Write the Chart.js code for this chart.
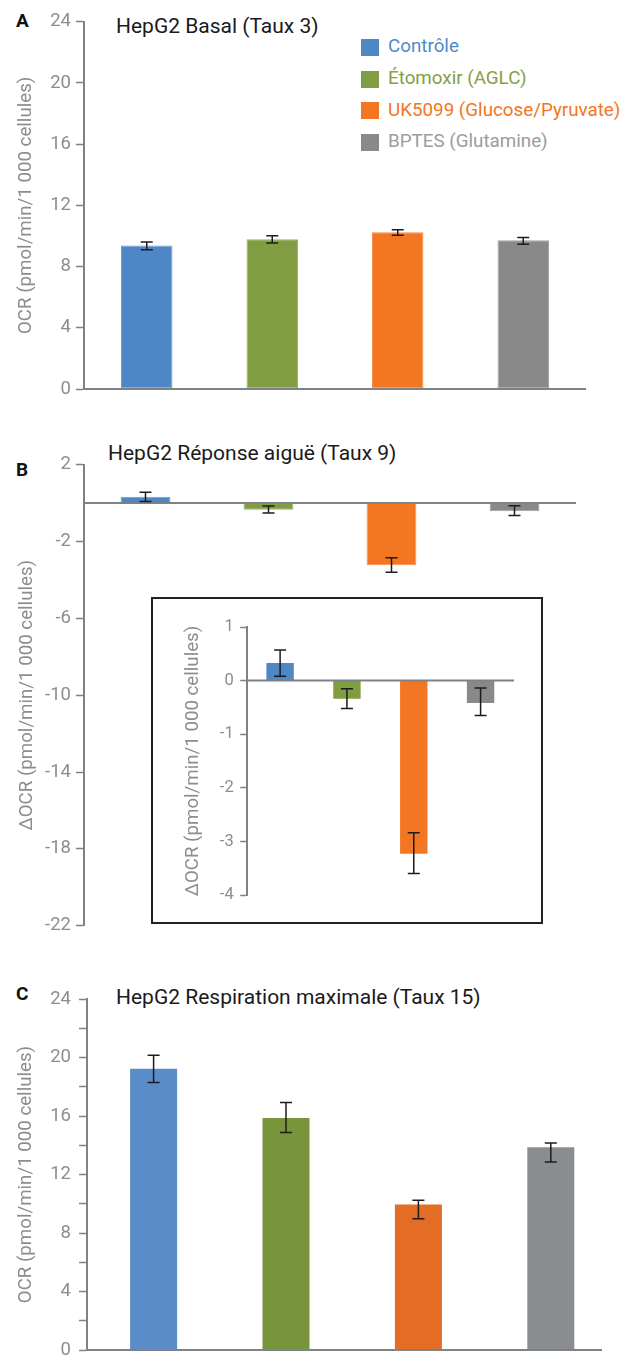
<!DOCTYPE html>
<html>
<head>
<meta charset="utf-8">
<script src="https://cdn.jsdelivr.net/npm/chart.js@4.4.1/dist/chart.umd.min.js"></script>
<style>
  html, body { margin:0; padding:0; background:#fff; width:634px; height:1357px; overflow:hidden; }
  body { position:relative; font-family: Roboto, "Noto Sans", sans-serif; }
  canvas { position:absolute; }
  .lbl { position:absolute; white-space:nowrap; line-height:1; }
  .panel { font-weight:700; font-size:19px; color:#111; }
  .title { font-size:21px; color:#1a1a1a; }
  .leg { font-size:18.8px; }
  .sw { position:absolute; width:18px; height:17px; }
  #frame { position:absolute; left:151px; top:597px; width:392px; height:327px; border:2px solid #222; box-sizing:border-box; }
</style>
</head>
<body>
<div class="lbl panel" style="left:16px;top:11px;">A</div>
<div class="lbl title" style="left:116px;top:15.8px;">HepG2 Basal (Taux 3)</div>

<div class="lbl panel" style="left:16px;top:460px;">B</div>
<div class="lbl title" style="left:108px;top:443px;">HepG2 Réponse aiguë (Taux 9)</div>

<div class="lbl panel" style="left:16px;top:984px;">C</div>
<div class="lbl title" style="left:116px;top:986.6px;">HepG2 Respiration maximale (Taux 15)</div>

<div id="legend"></div>
<div id="frame"></div>

<canvas id="cA" width="634" height="420" style="left:0;top:0;width:634px;height:420px;"></canvas>
<canvas id="cB" width="634" height="505" style="left:0;top:440px;width:634px;height:505px;"></canvas>
<canvas id="cI" width="387" height="320" style="left:153px;top:600px;width:387px;height:320px;"></canvas>
<canvas id="cC" width="634" height="410" style="left:0;top:980px;width:634px;height:410px;"></canvas>

<script>
// ---------- DATA ----------
const categories = ['Contrôle', 'Étomoxir (AGLC)', 'UK5099 (Glucose/Pyruvate)', 'BPTES (Glutamine)'];

// A: HepG2 Basal (Taux 3)
const basalValues   = [9.38, 9.78, 10.24, 9.72];
const basalErrPlus  = [0.22, 0.24, 0.17, 0.18];
const basalErrMinus = [0.28, 0.24, 0.20, 0.26];
const basalTicks    = [0, 4, 8, 12, 16, 20, 24];

// B: HepG2 Réponse aiguë (Taux 9)  (same values shown in the inset)
const acuteValues   = [0.33, -0.34, -3.23, -0.42];
const acuteErrPlus  = [0.24, 0.19, 0.39, 0.28];
const acuteErrMinus = [0.25, 0.18, 0.37, 0.23];
const acuteTicks    = [-22, -18, -14, -10, -6, -2, 2];
const insetTicks    = [-4, -3, -2, -1, 0, 1];

// C: HepG2 Respiration maximale (Taux 15)
const maxValues     = [19.24, 15.87, 9.95, 13.87];
const maxErrPlus    = [0.92, 1.05, 0.29, 0.29];
const maxErrMinus   = [0.94, 0.99, 0.97, 1.01];
const maxTicks      = [0, 2, 4, 6, 8, 10, 12, 14, 16, 18, 20, 22, 24];
const maxTickLabels = [0, 4, 8, 12, 16, 20, 24];

// ---------- STYLE ----------
const colorsA  = ['#4f87c6', '#809e41', '#f37622', '#898989'];
const bordersA = ['#6b9bd3', '#93af5c', '#f78d45', '#a0a0a0'];
const colorsC  = ['#5a8cc8', '#78953c', '#e36d25', '#8a8d90'];
const legendText = ['#5089cb', '#83a145', '#f37622', '#9c9c9c'];
const AX = '#7e8186';
const TICKTXT = '#8a8d91';
const TITLE_FONT = 18.7;

// legend (HTML)
(function () {
  const lg = document.getElementById('legend');
  const rows = [47, 79, 110.5, 142];
  categories.forEach((c, i) => {
    const sw = document.createElement('div');
    sw.className = 'sw';
    sw.style.left = '361px';
    sw.style.top = (rows[i] - 8.5) + 'px';
    sw.style.background = colorsA[i];
    lg.appendChild(sw);
    const t = document.createElement('div');
    t.className = 'lbl leg';
    t.style.left = '388px';
    t.style.top = (rows[i] - 10) + 'px';
    t.style.color = legendText[i];
    t.textContent = c;
    lg.appendChild(t);
  });
})();

// ---------- PLUGINS ----------
const baselinePlugin = {
  id: 'baseline',
  afterDatasetsDraw(chart, args, opts) {
    const y = chart.scales.y;
    const a = chart.chartArea;
    const py = y.getPixelForValue(0);
    const ctx = chart.ctx;
    ctx.save();
    ctx.strokeStyle = opts.color || AX;
    ctx.lineWidth = opts.width || 2;
    ctx.beginPath();
    ctx.moveTo(a.left, py);
    ctx.lineTo(a.right - (opts.trim || 0), py);
    ctx.stroke();
    ctx.restore();
  }
};
const errorBarPlugin = {
  id: 'errbars',
  afterDatasetsDraw(chart, args, opts) {
    const ctx = chart.ctx;
    const y = chart.scales.y;
    const ds = chart.data.datasets[0];
    const meta = chart.getDatasetMeta(0);
    const cap = opts.cap || 6;
    ctx.save();
    ctx.strokeStyle = '#1c1c1c';
    ctx.lineWidth = opts.width || 1.5;
    meta.data.forEach((bar, i) => {
      const v = ds.data[i];
      const yt = y.getPixelForValue(v + ds.errPlus[i]);
      const yb = y.getPixelForValue(v - ds.errMinus[i]);
      const x = bar.x;
      ctx.beginPath();
      ctx.moveTo(x, yt); ctx.lineTo(x, yb);
      ctx.moveTo(x - cap, yt); ctx.lineTo(x + cap, yt);
      ctx.moveTo(x - cap, yb); ctx.lineTo(x + cap, yb);
      ctx.stroke();
    });
    ctx.restore();
  }
};

function yScale(o) {
  return {
    min: o.min, max: o.max,
    afterBuildTicks: s => { s.ticks = o.ticks.map(v => ({ value: v })); },
    afterFit: s => { s.width = o.width; },
    ticks: {
      autoSkip: false,
      color: TICKTXT,
      padding: o.tickPad,
      font: { family: 'Roboto', size: o.tickFont },
      callback: v => (o.labels ? (o.labels.includes(v) ? String(v) : '') : String(v))
    },
    grid: { drawOnChartArea: false, drawTicks: true, tickLength: o.tickLen, tickColor: AX, tickWidth: 1.5 },
    border: { display: true, color: AX, width: 2 },
    title: {
      display: true, text: o.title, color: TICKTXT,
      font: { family: 'Roboto', size: TITLE_FONT },
      padding: { top: o.titlePad, bottom: 0 }
    }
  };
}

function makeChart(id, o) {
  return new Chart(document.getElementById(id), {
    type: 'bar',
    data: {
      labels: categories,
      datasets: [{
        data: o.values, errPlus: o.errPlus, errMinus: o.errMinus,
        backgroundColor: o.colors,
        borderColor: o.borders || o.colors,
        borderWidth: o.borders ? 1 : 0,
        borderSkipped: false,
        barPercentage: o.barPct, categoryPercentage: 1
      }]
    },
    options: {
      responsive: false, animation: false, devicePixelRatio: 1,
      layout: { padding: o.padding },
      plugins: {
        legend: { display: false }, tooltip: { enabled: false },
        baseline: { trim: o.trim || 0 },
        errbars: { cap: 6 }
      },
      scales: {
        x: { display: false },
        y: yScale(o.y)
      }
    },
    plugins: [baselinePlugin, errorBarPlugin]
  });
}

function draw() {
  Chart.defaults.font.family = 'Roboto';
  // A
  makeChart('cA', {
    values: basalValues, errPlus: basalErrPlus, errMinus: basalErrMinus,
    colors: colorsA, borders: bordersA, barPct: 0.41,
    padding: { left: 0, right: 48, top: 21.7, bottom: 31 },
    y: { min: 0, max: 24, ticks: basalTicks, width: 84, tickPad: 5, tickLen: 8, tickFont: 18.5,
         title: 'OCR (pmol/min/1 000 cellules)', titlePad: 15.4 }
  });
  // B
  makeChart('cB', {
    values: acuteValues, errPlus: acuteErrPlus, errMinus: acuteErrMinus,
    colors: colorsA, borders: bordersA, barPct: 0.405,
    padding: { left: 0, right: 58, top: 24.7, bottom: 19.3 },
    y: { min: -22, max: 2, ticks: acuteTicks, width: 84, tickPad: 5, tickLen: 8, tickFont: 18.5,
         title: 'ΔOCR (pmol/min/1 000 cellules)', titlePad: 16 }
  });
  // Inset
  makeChart('cI', {
    values: acuteValues, errPlus: acuteErrPlus, errMinus: acuteErrMinus,
    colors: colorsA, barPct: 0.41,
    padding: { left: 0, right: 26, top: 27, bottom: 25 },
    y: { min: -4, max: 1, ticks: insetTicks, width: 93.7, tickPad: 6.5, tickLen: 6.5, tickFont: 16.5,
         title: 'ΔOCR (pmol/min/1 000 cellules)', titlePad: 29.4 }
  });
  // C
  makeChart('cC', {
    values: maxValues, errPlus: maxErrPlus, errMinus: maxErrMinus,
    colors: colorsC, barPct: 0.355, trim: 15,
    padding: { left: 0, right: 17, top: 13.7, bottom: 40 },
    y: { min: 0, max: 24, ticks: maxTicks, labels: maxTickLabels, width: 87.4, tickPad: 8, tickLen: 8.4, tickFont: 18.5,
         title: 'OCR (pmol/min/1 000 cellules)', titlePad: 15.4 }
  });
}

const fontReady = (document.fonts && document.fonts.load)
  ? Promise.race([
      Promise.all([document.fonts.load('17px Roboto'), document.fonts.load('bold 19px Roboto')]),
      new Promise(r => setTimeout(r, 800))
    ])
  : Promise.resolve();
fontReady.then(draw, draw);
</script>
</body>
</html>
